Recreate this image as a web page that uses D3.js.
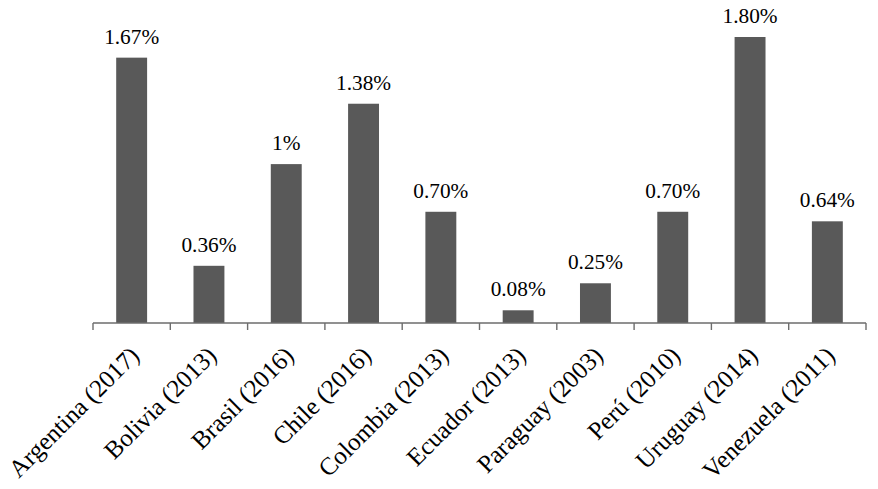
<!DOCTYPE html>
<html><head><meta charset="utf-8">
<script src="https://cdn.jsdelivr.net/npm/d3@7"></script>
<style>body{margin:0;background:#fff}svg{display:block}
svg text{font-family:"Liberation Serif","Times New Roman",Times,serif;fill:#000}</style>
</head><body>
<svg id="c" width="878" height="489"></svg>
<script>
const categories = ["Argentina (2017)","Bolivia (2013)","Brasil (2016)","Chile (2016)","Colombia (2013)","Ecuador (2013)","Paraguay (2003)","Perú (2010)","Uruguay (2014)","Venezuela (2011)"];
const values = [1.67,0.36,1.0,1.38,0.70,0.08,0.25,0.70,1.80,0.64];
const valueLabels = ["1.67%","0.36%","1%","1.38%","0.70%","0.08%","0.25%","0.70%","1.80%","0.64%"];

const svg = d3.select("#c");
const x0 = 93, x1 = 866, yBase = 323, yTop = 37;
const x = d3.scaleBand().domain(categories).range([x0, x1]).paddingInner(0.6).paddingOuter(0.3);
const y = d3.scaleLinear().domain([0, 1.8]).range([yBase, yTop]);
const step = x.step();

svg.selectAll("rect.bar").data(categories).join("rect")
  .attr("class","bar")
  .attr("x", d => x(d))
  .attr("width", x.bandwidth())
  .attr("y", (d,i) => y(values[i]))
  .attr("height", (d,i) => yBase - y(values[i]))
  .attr("fill", "#595959");

// axis
const ax = svg.append("g").attr("stroke", "#6d6d6d").attr("stroke-width", 1.4);
ax.append("line").attr("x1", x0).attr("x2", x1).attr("y1", yBase).attr("y2", yBase);
const tickPos = d3.range(categories.length + 1).map(i => x0 + i * step);
ax.selectAll("line.t").data(tickPos).join("line").attr("class","t")
  .attr("x1", d => d).attr("x2", d => d).attr("y1", yBase).attr("y2", yBase + 7);

svg.selectAll("text.v").data(categories).join("text").attr("class","v")
  .attr("x", d => x(d) + x.bandwidth()/2)
  .attr("y", (d,i) => y(values[i]) - 14)
  .attr("text-anchor","middle")
  .style("font-size", "21.3px")
  .text((d,i) => valueLabels[i]);

svg.selectAll("text.c").data(categories).join("text").attr("class","c")
  .attr("transform", d => `translate(${x(d) + x.bandwidth()/2 + 9},${yBase + 34}) rotate(-45)`)
  .attr("text-anchor","end")
  .style("font-size", "25px")
  .text(d => d);
</script>
</body></html>
